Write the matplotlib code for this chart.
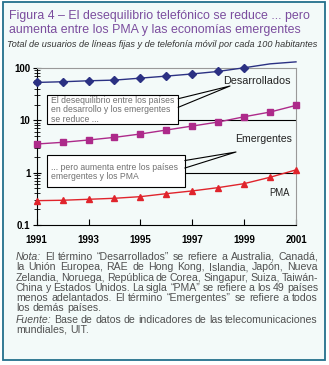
import numpy as np
import matplotlib.pyplot as plt
from matplotlib.patches import Rectangle
from matplotlib.lines import Line2D
from matplotlib.transforms import blended_transform_factory

plt.rcParams['font.family'] = ['Liberation Sans', 'DejaVu Sans']

# ---- data ----
years = np.arange(1991, 2002)
desarrollados = [53, 54.6, 57, 58.7, 64, 70, 77, 86, 101, 120, 131]
emergentes = [3.53, 3.80, 4.21, 4.73, 5.48, 6.53, 7.78, 9.28, 11.7, 14.4, 19.3]
pma = [0.292, 0.297, 0.31, 0.324, 0.348, 0.397, 0.448, 0.518, 0.617, 0.817, 1.13]
xticks = [1991, 1993, 1995, 1997, 1999, 2001]
yticks = [0.1, 1, 10, 100]
yticklabels = ['0.1', '1', '10', '100']

title1 = 'Figura 4 – El desequilibrio telefónico se reduce ... pero'
title2 = 'aumenta entre los PMA y las economías emergentes'
subtitle = 'Total de usuarios de líneas fijas y de telefonía móvil por cada 100 habitantes'
box1_lines = ['El desequilibrio entre los países', 'en desarrollo y los emergentes', 'se reduce ...']
box2_lines = ['... pero aumenta entre los países', 'emergentes y los PMA']
note_lines = [
    'Nota: El término “Desarrollados” se refiere a Australia, Canadá,',
    'la Unión Europea, RAE de Hong Kong, Islandia, Japón, Nueva',
    'Zelandia, Noruega, República de Corea, Singapur, Suiza, Taiwán-',
    'China y Estados Unidos. La sigla “PMA” se refiere a los 49 países',
    'menos adelantados. El término “Emergentes” se refiere a todos',
    'los demás países.',
]
source_lines = ['Fuente: Base de datos de indicadores de las telecomunicaciones',
                'mundiales, UIT.']

W, H = 329, 365
fig = plt.figure(figsize=(W / 100, H / 100), dpi=100)
fig.patch.set_facecolor('white')
R = fig.canvas.get_renderer()


def px(x, y):
    """pixel position (from top-left) -> figure fraction"""
    return x / W, 1 - y / H


def fit(t, width):
    w = t.get_window_extent(R).width
    t.set_fontsize(t.get_fontsize() * width / w)
    return t.get_fontsize()


# outer frame
fig.add_artist(Rectangle(px(3, 360), 322 / W, 358 / H, transform=fig.transFigure,
                         fc='#f3faf9', ec='#23708c', lw=1.3, zorder=-5))

# titles
purple = '#7b4d9e'
t = fig.text(*px(9, 19.5), title1, color=purple, fontsize=9, va='baseline')
tfs = fit(t, 301)
fig.text(*px(9, 33.5), title2, color=purple, fontsize=tfs, va='baseline')
t = fig.text(*px(7, 47), subtitle, color='#333333', fontsize=6, style='italic', va='baseline')
fit(t, 313)

# ---- axes ----
x0, x1, y0, y1 = 36.7, 296, 68, 225
ax = fig.add_axes([x0 / W, 1 - y1 / H, (x1 - x0) / W, (y1 - y0) / H])
ax.set_facecolor('none')
ax.set_yscale('log')
ax.set_xlim(1991, 2001)
ax.set_ylim(0.1, 100)

ax.plot(years, desarrollados, color='#2b3183', lw=1, marker='D', ms=3.8,
        markevery=list(range(9)), clip_on=False, zorder=3)
ax.plot(years, emergentes, color='#ad2a8a', lw=1, marker='s', ms=5,
        clip_on=False, zorder=3)
ax.plot(years, pma, color='#e0242c', lw=1, marker='^', ms=5,
        clip_on=False, zorder=3)

ax.set_xticks(xticks)
ax.set_xticklabels([str(v) for v in xticks])
ax.set_yticks(yticks)
ax.set_yticklabels(yticklabels)
ax.tick_params(axis='x', which='both', direction='in', length=4, width=0.8,
               pad=7.5, labelsize=7)
ax.tick_params(axis='y', which='major', direction='inout', length=6, width=0.8,
               pad=1.5, labelsize=7)
ax.tick_params(axis='y', which='minor', direction='inout', length=4, width=0.6)
for lab in ax.get_xticklabels() + ax.get_yticklabels():
    lab.set_fontweight('bold')
for s in ['left', 'bottom']:
    ax.spines[s].set_color('black')
    ax.spines[s].set_linewidth(0.8)
for s in ['top', 'right']:
    ax.spines[s].set_color('#999999')
    ax.spines[s].set_linewidth(0.8)

# reference lines at 10 and 1, from the callout boxes to the right edge
blend = blended_transform_factory(fig.transFigure, ax.transData)
ax.add_line(Line2D([178.3 / W, x1 / W], [10, 10], transform=blend, color='black', lw=0.8))
ax.add_line(Line2D([185 / W, x1 / W], [1, 1], transform=blend, color='black', lw=0.8))

# series labels
lab_c = '#222222'
t = fig.text(*px(257, 80.5), 'Desarrollados', color=lab_c, fontsize=7, ha='center', va='center')
fit(t, 67)
t = fig.text(*px(263.3, 138.5), 'Emergentes', color=lab_c, fontsize=7, ha='center', va='center')
fit(t, 56.7)
t = fig.text(*px(279, 192.5), 'PMA', color=lab_c, fontsize=7, ha='center', va='center')
fit(t, 20.5)

# callout boxes
box_c = '#707070'
fig.add_artist(Rectangle(px(46.7, 124), (178.3 - 46.7) / W, (124 - 94.7) / H,
                         transform=fig.transFigure, fc='white', ec='black', lw=0.8, zorder=4))
fig.add_artist(Rectangle(px(46.7, 186.7), (185 - 46.7) / W, (186.7 - 155) / H,
                         transform=fig.transFigure, fc='white', ec='black', lw=0.8, zorder=4))
for pts in ([(178.3, 98.7), (230, 86), (178.3, 107.3)],
            [(185, 160.5), (236, 152), (185, 168)]):
    xs, ys = zip(*[px(a, b) for a, b in pts])
    fig.add_artist(Line2D(xs, ys, transform=fig.transFigure, color='black', lw=0.8, zorder=4))

t = fig.text(*px(51, 103), box1_lines[0], color=box_c, fontsize=6.5, va='baseline', zorder=5)
bfs = fit(t, 122)
for line, yb in zip(box1_lines[1:], [112, 121.5]):
    fig.text(*px(51, yb), line, color=box_c, fontsize=bfs, va='baseline', zorder=5)
for line, yb in zip(box2_lines, [170, 179]):
    fig.text(*px(51, yb), line, color=box_c, fontsize=bfs, va='baseline', zorder=5)

# ---- note, justified ----
note_c = '#505050'
nfs = 7.6
space = 0.278 * nfs * 100 / 72


def justify(line, yb, fill=True, xa=16, xb=318):
    words = line.split(' ')
    ts = []
    for i, w in enumerate(words):
        st = 'italic' if (i == 0 and w in ('Nota:', 'Fuente:')) else 'normal'
        ts.append(fig.text(0, 0, w, fontsize=nfs, color=note_c, style=st, va='baseline'))
    widths = [tt.get_window_extent(R).width for tt in ts]
    gap = (xb - xa - sum(widths)) / (len(words) - 1) if fill else space
    gap = max(gap, 0.6 * space)
    x = xa
    for tt, w in zip(ts, widths):
        tt.set_position(px(x, yb))
        x += w + gap


note_y = [259.5, 270, 280.6, 291, 301, 311.2]
for i, (line, yb) in enumerate(zip(note_lines, note_y)):
    justify(line, yb, fill=(i < len(note_lines) - 1))
justify(source_lines[0], 323.4)
justify(source_lines[1], 332.8, fill=False)

fig.savefig('out.png', dpi=100)
